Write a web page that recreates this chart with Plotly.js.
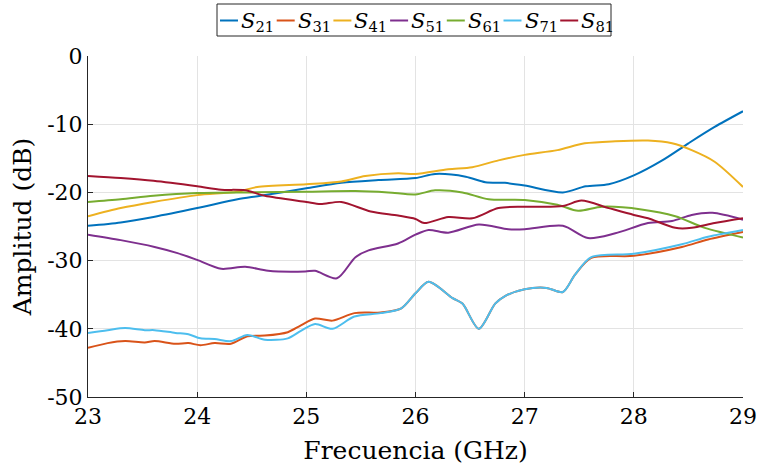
<!DOCTYPE html>
<html>
<head>
<meta charset="utf-8">
<script src="https://cdn.plot.ly/plotly-3.0.1.min.js"></script>
<style>html,body{margin:0;padding:0;background:#fff;}#chart{width:758px;height:469px;}</style>
</head>
<body>
<div id="chart"></div>
<script>
// Frequency samples (GHz) and amplitudes (dB)
const x21 = [23,23.3,23.6,24,24.37,24.58,25,25.32,25.66,26,26.18,26.46,26.64,26.82,27,27.35,27.56,27.77,28,28.26,28.5,28.74,29];
const s21 = [-24.9,-24.4,-23.6,-22.3,-21.0,-20.5,-19.4,-18.6,-18.2,-17.9,-17.3,-17.7,-18.5,-18.6,-19.0,-20.0,-19.1,-18.8,-17.5,-15.3,-12.8,-10.4,-8.1];

const x41 = [23,23.3,23.6,24,24.37,24.55,25,25.32,25.54,25.84,26,26.3,26.52,26.76,27,27.3,27.55,27.83,28.13,28.35,28.53,28.74,29];
const s41 = [-23.5,-22.3,-21.4,-20.4,-19.9,-19.2,-18.8,-18.4,-17.6,-17.2,-17.3,-16.6,-16.3,-15.3,-14.5,-13.8,-12.8,-12.5,-12.4,-12.8,-13.8,-15.5,-19.2];

const x61 = [23,23.3,23.6,24,24.5,25,25.45,25.75,26,26.18,26.43,26.67,27,27.3,27.49,27.71,28.07,28.38,28.65,29];
const s61 = [-21.4,-21.0,-20.5,-20.1,-20.0,-19.9,-19.8,-20.0,-20.3,-19.7,-20.0,-21.0,-21.1,-21.8,-22.7,-22.1,-22.5,-23.5,-25.2,-26.6];

const x81 = [23,23.3,23.6,24,24.22,24.44,24.62,25,25.13,25.32,25.59,25.84,26.0,26.08,26.3,26.52,26.76,27,27.35,27.52,27.77,28,28.13,28.38,28.53,28.74,29];
const s81 = [-17.6,-17.9,-18.3,-19.1,-19.6,-19.7,-20.5,-21.4,-21.7,-21.4,-22.8,-23.4,-23.9,-24.5,-23.6,-23.8,-22.3,-22.1,-22.0,-21.2,-22.3,-23.3,-23.8,-25.2,-25.2,-24.5,-23.8];

const x51 = [23,23.3,23.61,23.82,24,24.22,24.44,24.65,24.99,25.08,25.28,25.45,25.57,25.84,26,26.12,26.3,26.58,26.85,27,27.35,27.58,27.83,28.13,28.35,28.53,28.72,29];
const s51 = [-26.2,-27.0,-28.0,-28.9,-29.9,-31.2,-30.9,-31.5,-31.6,-31.5,-32.6,-29.5,-28.5,-27.5,-26.2,-25.5,-25.9,-24.7,-25.4,-25.4,-24.9,-26.7,-26.0,-24.5,-24.2,-23.3,-23.0,-24.0];

const xLow = [23,23.18,23.34,23.52,23.61,23.8,23.92,24.03,24.16,24.31,24.46,24.62,24.83,24.95,25.08,25.24,25.44,25.68,25.87,26.0,26.12,26.34,26.43,26.58,26.73,26.82,27,27.2,27.35,27.46,27.61,28,28.44,28.68,29];
const s31 = [-42.8,-42.1,-41.8,-42.0,-41.8,-42.2,-42.1,-42.4,-42.1,-42.2,-41.1,-41.0,-40.5,-39.5,-38.5,-38.8,-37.7,-37.6,-37.0,-34.8,-33.1,-35.5,-36.3,-40.0,-36.3,-35.2,-34.2,-34.0,-34.6,-32.1,-29.6,-29.3,-28.0,-26.9,-25.8];
const s71 = [-40.6,-40.2,-39.9,-40.2,-40.2,-40.6,-40.8,-41.4,-41.5,-41.8,-40.9,-41.6,-41.4,-40.3,-39.3,-40.0,-38.2,-37.7,-37.0,-34.8,-33.1,-35.5,-36.3,-40.0,-36.3,-35.2,-34.2,-34.0,-34.6,-32.1,-29.5,-29.0,-27.6,-26.5,-25.5];

const names = ['<i>S</i><sub>21</sub>','<i>S</i><sub>31</sub>','<i>S</i><sub>41</sub>','<i>S</i><sub>51</sub>','<i>S</i><sub>61</sub>','<i>S</i><sub>71</sub>','<i>S</i><sub>81</sub>'];
const colors = ['#0072BD','#D95319','#EDB120','#7E2F8E','#77AC30','#4DBEEE','#A2142F'];
const xs = [x21, xLow, x41, x51, x61, xLow, x81];
const ys = [s21, s31, s41, s51, s61, s71, s81];

const xTicks = [23,24,25,26,27,28,29];
const yTicks = [0,-10,-20,-30,-40,-50];
const yTickText = ['0','-10','-20','-30','-40','-50'];

const traces = names.map((n,i)=>({
  x: xs[i], y: ys[i], name: n, type:'scatter', mode:'lines', showlegend:false,
  line:{color:colors[i], width:2, shape:'spline', smoothing:0.8}
}));

const FONT = 'DejaVu Serif, Liberation Serif, serif';
const W = 758, H = 469, ML = 88, MR = 15, MT = 56, MB = 72;
const PW = W - ML - MR, PH = H - MT - MB;
const px = p => (p - ML) / PW;          // pixel -> paper x
const py = p => (H - MB - p) / PH;      // pixel -> paper y

// Legend (MATLAB-style compact box above the plot)
const legLeft = 217, legRight = 611, legTop = 4, legBottom = 36;
const itemStart = 220, itemStep = 56.7, sampleLen = 18, legMid = 20.5;
const shapes = [{type:'rect', xref:'paper', yref:'paper',
  x0:px(legLeft), x1:px(legRight), y0:py(legBottom), y1:py(legTop),
  line:{color:'#262626', width:1}, fillcolor:'#fff', layer:'above'}];
const annotations = [];
names.forEach((n,i)=>{
  const x0 = itemStart + i*itemStep;
  shapes.push({type:'line', xref:'paper', yref:'paper',
    x0:px(x0), x1:px(x0+sampleLen), y0:py(legMid), y1:py(legMid),
    line:{color:colors[i], width:2}, layer:'above'});
  annotations.push({xref:'paper', yref:'paper', x:px(x0+sampleLen+1), y:py(legMid+1),
    xanchor:'left', yanchor:'middle', showarrow:false, text:n,
    font:{family:FONT, size:21, color:'#000'}});
});

const layout = {
  width:W, height:H,
  margin:{l:ML, r:MR, t:MT, b:MB},
  paper_bgcolor:'#fff', plot_bgcolor:'#fff',
  font:{family:FONT, color:'#262626', size:22},
  showlegend:false,
  shapes: shapes, annotations: annotations,
  xaxis:{range:[23,29], tickvals:xTicks, ticktext:xTicks.map(String),
    showgrid:true, gridcolor:'#e3e3e3', gridwidth:1,
    showline:true, linecolor:'#262626', linewidth:1,
    ticks:'inside', ticklen:5, tickcolor:'#262626', zeroline:false,
    tickfont:{size:22, family:FONT, color:'#000'},
    title:{text:'Frecuencia (GHz)', font:{size:25, family:FONT, color:'#000'}, standoff:13}},
  yaxis:{range:[-50,0], tickvals:yTicks, ticktext:yTickText,
    showgrid:true, gridcolor:'#e3e3e3', gridwidth:1,
    showline:true, linecolor:'#262626', linewidth:1,
    ticks:'inside', ticklen:5, tickcolor:'#262626', zeroline:false,
    tickfont:{size:22, family:FONT, color:'#000'},
    title:{text:'Amplitud (dB)', font:{size:25, family:FONT, color:'#000'}, standoff:8}}
};
Plotly.newPlot('chart', traces, layout, {staticPlot:true, displayModeBar:false});
</script>
</body>
</html>
